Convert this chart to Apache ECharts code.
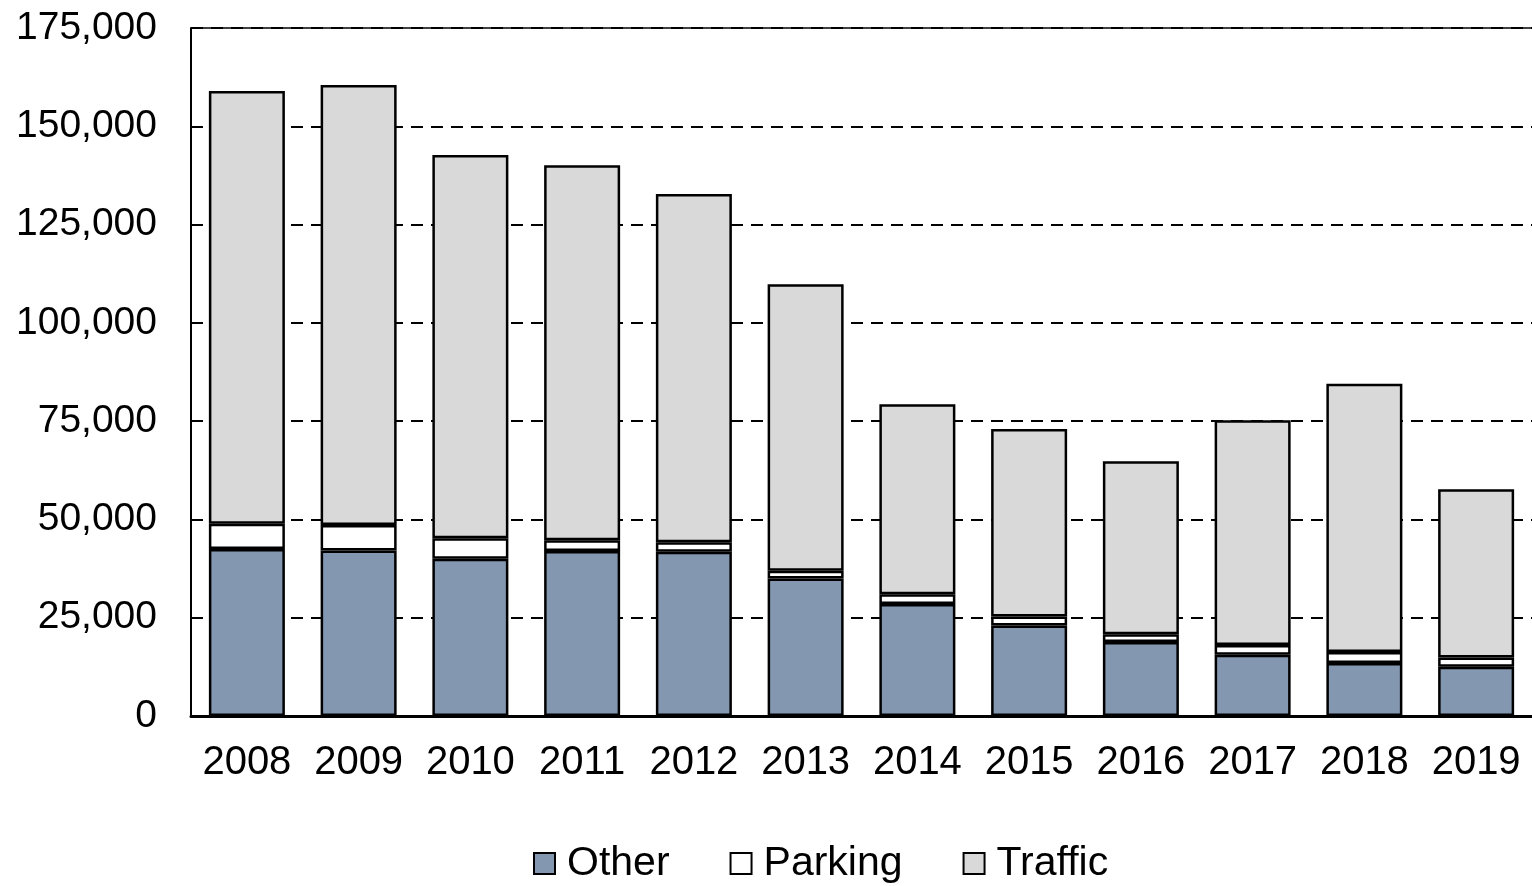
<!DOCTYPE html>
<html><head><meta charset="utf-8">
<script src="https://cdn.jsdelivr.net/npm/echarts@6/dist/echarts.min.js"></script>
<style>html,body{margin:0;padding:0;background:#fff}#c{width:1532px;height:886px}</style>
</head><body><div id="c"></div>
<script>
const years = ['2008','2009','2010','2011','2012','2013','2014','2015','2016','2017','2018','2019'];
const other   = [42500, 42100, 40000, 42000, 41800, 35000, 28500, 23000, 18800, 15600, 13500, 12500];
const parking = [ 6400,  6500,  5200,  2700,  2400,  1950,  2500,  2300,  2000,  2450,  2800,  2400];
const traffic = [110100,111900, 97500, 95400, 88600, 72900, 48300, 47700, 44000, 57200, 68200, 42800];
const yTicks = [0, 25000, 50000, 75000, 100000, 125000, 150000, 175000];

const chart = echarts.init(document.getElementById('c'));
const font = 'Liberation Sans, Arial, sans-serif';
const barStyle = c => ({color: c, borderColor: '#000', borderWidth: 2.5});
chart.setOption({
  animation: false,
  grid: {left: 191, right: 0, top: 28, bottom: 170},
  legend: {
    top: 843, left: 533, padding: 0, itemWidth: 21, itemHeight: 21, itemGap: 60,
    icon: 'rect',
    itemStyle: {borderColor: '#000', borderWidth: 2},
    textStyle: {fontFamily: font, fontSize: 41, color: '#000', padding: [0,0,0,7]},
    data: ['Other','Parking','Traffic']
  },
  xAxis: {
    type: 'category', data: years,
    axisLine: {lineStyle: {color: '#000', width: 3}},
    axisTick: {show: false},
    axisLabel: {fontFamily: font, fontSize: 40, color: '#000', margin: 27, interval: 0}
  },
  yAxis: {
    type: 'value', min: 0, max: 175000, interval: 25000,
    axisLine: {show: true, lineStyle: {color: '#000', width: 2}},
    axisTick: {show: false},
    splitLine: {lineStyle: {color: '#000', type: [12, 8], width: 2}},
    axisLabel: {fontFamily: font, fontSize: 39, color: '#000', margin: 34,
      formatter: v => yTicks.includes(v) ? v.toLocaleString('en-US') : ''}
  },
  series: [
    {name: 'Other', type: 'bar', stack: 's', data: other, barWidth: 76, itemStyle: barStyle('#8497B0'),
     markLine: {silent: true, symbol: 'none', label: {show: false},
       lineStyle: {color: '#000', type: 'solid', width: 1.5}, data: [{yAxis: 175000}]}},
    {name: 'Parking', type: 'bar', stack: 's', data: parking, barWidth: 76, itemStyle: barStyle('#FFFFFF')},
    {name: 'Traffic', type: 'bar', stack: 's', data: traffic, barWidth: 76, itemStyle: barStyle('#D9D9D9')}
  ]
});
</script></body></html>
